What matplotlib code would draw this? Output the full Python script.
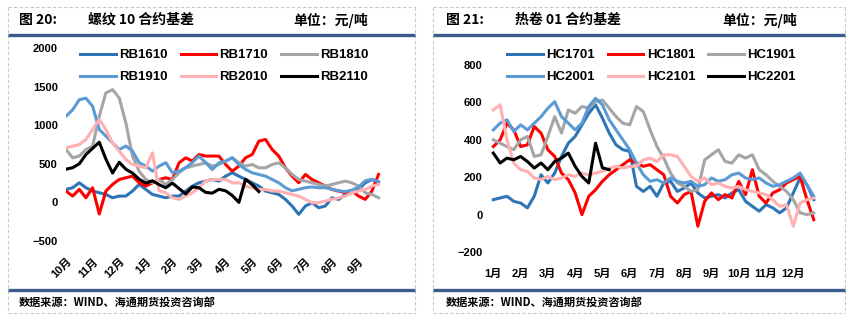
import matplotlib
matplotlib.use('Agg')
import matplotlib.pyplot as plt
from matplotlib.lines import Line2D
import numpy as np

plt.rcParams['font.family'] = ['Liberation Sans', 'Noto Sans CJK SC']
plt.rcParams['font.weight'] = 'bold'

W, H = 851, 325

# ---- rebar (RB) basis, Oct -> Sep, weekly points ----
rb_months = ['10月', '11月', '12月', '1月', '2月', '3月', '4月', '5月', '6月', '7月', '8月', '9月']
rb_step = 0.25

rb1610 = [168, 190, 254, 190, 147, 125, 103, 60, 82, 82, 147, 233, 168, 103, 82, 60, 82, 82, 147, 211, 254, 276, 297,
          276, 340, 384, 340, 297, 254, 211, 147, 125, 103, 39, -47, -155, -47, -4, -69, -47, 60, 39, 103, 147, 168, 254, 297, 254]
rb1710 = [147, 82, 168, 60, 190, -150, 147, 233, 297, 319, 340, 254, 211, 254, 297, 319, 297, 513, 578, 535, 620, 600, 600,
          600, 491, 405, 470, 578, 620, 793, 815, 685, 600, 448, 340, 254, 362, 297, 254, 211, 168, 147, 125, 147, 82, 39, 147, 362]
rb1810 = [685, 578, 600, 685, 728, 1116, 1418, 1461, 1353, 1030, 600, 405, 297, 254, 297, 233, 297, 384, 448, 470, 491, 513, 470,
          491, 535, 578, 513, 470, 491, 448, 448, 491, 513, 448, 362, 297, 276, 254, 233, 211, 233, 254, 276, 254, 211, 125, 103, 60]
rb1910 = [1116, 1200, 1330, 1350, 1245, 945, 860, 770, 685, 730, 665, 515, 470, 405, 470, 515, 385, 405, 450, 515, 600, 515, 425,
          513, 535, 578, 491, 427, 384, 362, 340, 297, 254, 190, 150, 170, 190, 200, 190, 190, 170, 150, 140, 160, 200, 280, 300, 270]
rb2010 = [707, 728, 750, 815, 944, 1073, 944, 771, 664, 556, 491, 470, 448, 642, 150, 125, 60, 39, 82, 125, 190, 276, 297,
          297, 297, 254, 254, 211, 190, 168, 168, 147, 147, 125, 103, 82, 39, -4, -4, 17, 39, 60, 82, 125, 147, 168, 211, 233]
rb2110 = [430, 450, 500, 620, 700, 780, 560, 380, 520, 430, 380, 300, 250, 280, 230, 190, 250, 180, 110, 200, 190, 130, 120,
          170, 150, 90, 0, 300, 230, 140]

# ---- hot-rolled coil (HC) basis, Jan -> Dec, weekly points ----
hc_months = ['1月', '2月', '3月', '4月', '5月', '6月', '7月', '8月', '9月', '10月', '11月', '12月']
hc_step = 0.25

hc1701 = [80, 89, 98, 71, 62, 36, 98, 213, 169, 222, 311, 382, 418, 480, 542, 587, 516, 436, 373, 347, 338,
          151, 124, 151, 98, 169, 178, 124, 142, 169, 116, 89, 98, 107, 89, 116, 133, 71, 44, 18, 53, 36, 9, 36, 116, 196, 160, 80]
hc1801 = [364, 400, 489, 453, 364, 373, 471, 436, 347, 311, 222, 187, 116, 0, 98, 133, 178, 213, 240, 267, 293,
          276, 258, 267, 240, 213, 98, 62, 107, 124, -62, 71, 116, 80, 107, 89, 178, 107, 240, 98, 62, 116, 133, 169, 187, 204, 80, -27]
hc1901 = [400, 382, 364, 347, 400, 418, 311, 320, 418, 524, 436, 560, 542, 578, 569, 604, 613, 569, 524, 489, 480,
          578, 551, 453, 364, 302, 222, 169, 151, 124, 133, 293, 320, 347, 284, 276, 320, 302, 320, 240, 213, 178, 151, 124, 80, 9, 0, 9]
hc2001 = [453, 489, 507, 444, 480, 453, 489, 524, 569, 604, 524, 489, 453, 489, 578, 622, 587, 507, 453, 400, 347,
          276, 213, 178, 187, 169, 196, 178, 169, 178, 151, 160, 196, 178, 187, 213, 222, 196, 187, 196, 169, 151, 160, 178, 196, 222, 160, 98]
hc2101 = [560, 587, 400, 276, 240, 231, 196, 187, 204, 187, 196, 213, 204, 222, 213, 222, 231, 249, 258, 249, 258,
          258, 293, 302, 284, 320, 320, 311, 258, 204, 178, 196, 160, 169, 151, 142, 151, 133, 124, 116, 107, 80, 44, 53, -62, 62, 80, 89]
hc2201 = [329, 276, 302, 293, 311, 284, 249, 276, 240, 284, 302, 329, 258, 204, 169, 382, 250, 240]

colors = ['#2E75B6', '#FF0000', '#A5A5A5', '#5B9BD5', '#FFB0B0', '#000000']
LW = 2.2


def fx(px):
    return px / W


def fy(py):
    return 1 - py / H


fig = plt.figure(figsize=(W / 100, H / 100), dpi=100)
fig.patch.set_facecolor('white')


def frame(x0, x1):
    # dashed outer box, blue rules, header and source
    dash = dict(color='#C8C8C8', lw=0.8, ls=(0, (3, 2)), transform=fig.transFigure)
    fig.add_artist(Line2D([fx(x0), fx(x0)], [fy(7), fy(313)], **dash))
    fig.add_artist(Line2D([fx(x1), fx(x1)], [fy(7), fy(313)], **dash))
    fig.add_artist(Line2D([fx(x0), fx(x1)], [fy(7), fy(7)], **dash))
    fig.add_artist(Line2D([fx(x0), fx(x1)], [fy(313), fy(313)], **dash))
    rule = dict(color='#3B5B8C', lw=2.4, transform=fig.transFigure, solid_capstyle='butt')
    fig.add_artist(Line2D([fx(x0), fx(x1)], [fy(35), fy(35)], **rule))
    fig.add_artist(Line2D([fx(x0), fx(x1)], [fy(290), fy(290)], **rule))


def style_axes(ax, yticks):
    for s in ax.spines.values():
        s.set_visible(False)
    ax.set_yticks(yticks)
    ax.tick_params(length=0, labelsize=8)
    ax.set_facecolor('none')


# ---------------- left panel ----------------
frame(8, 415)
fig.text(fx(19), fy(20), '图 20:', fontsize=10, fontweight='bold', va='center', family=['Noto Sans CJK SC'])
fig.text(fx(88), fy(20), '螺纹 10 合约基差', fontsize=10, fontweight='bold', va='center', family=['Noto Sans CJK SC'])
fig.text(fx(293), fy(20), '单位：元/吨', fontsize=10, fontweight='bold', va='center', family=['Noto Sans CJK SC'])
fig.text(fx(19), fy(302), '数据来源：WIND、海通期货投资咨询部', fontsize=8, fontweight='bold', va='center',
         family=['Noto Sans CJK SC'])

ax1 = fig.add_axes([fx(66), fy(241), 12 * 26.6 / W, (241 - 48) / H])
rb_series = [('RB1610', rb1610), ('RB1710', rb1710), ('RB1810', rb1810),
             ('RB1910', rb1910), ('RB2010', rb2010), ('RB2110', rb2110)]
for (name, vals), c in zip(rb_series, colors):
    t = np.arange(len(vals)) * rb_step
    ax1.plot(t, vals, color=c, lw=LW, label=name, solid_joinstyle='round')
ax1.set_xlim(0, 12)
ax1.set_ylim(-500, 2000)
style_axes(ax1, [-500, 0, 500, 1000, 1500, 2000])
ax1.tick_params(axis='y', pad=6)
ax1.set_xticks(np.arange(12))
ax1.set_xticklabels(rb_months, rotation=45, ha='right', va='top', rotation_mode='anchor')
ax1.tick_params(axis='x', pad=11)

# ---------------- right panel ----------------
frame(433, 845)
fig.text(fx(446), fy(20), '图 21:', fontsize=10, fontweight='bold', va='center', family=['Noto Sans CJK SC'])
fig.text(fx(515), fy(20), '热卷 01 合约基差', fontsize=10, fontweight='bold', va='center', family=['Noto Sans CJK SC'])
fig.text(fx(722), fy(20), '单位：元/吨', fontsize=10, fontweight='bold', va='center', family=['Noto Sans CJK SC'])
fig.text(fx(446), fy(302), '数据来源：WIND、海通期货投资咨询部', fontsize=8, fontweight='bold', va='center',
         family=['Noto Sans CJK SC'])

ax2 = fig.add_axes([fx(490.6), fy(252), 12.05 * 27.27 / W, (252 - 65) / H])
hc_series = [('HC1701', hc1701), ('HC1801', hc1801), ('HC1901', hc1901),
             ('HC2001', hc2001), ('HC2101', hc2101), ('HC2201', hc2201)]
for (name, vals), c in zip(hc_series, colors):
    t = np.arange(len(vals)) * hc_step
    ax2.plot(t, vals, color=c, lw=LW, label=name, solid_joinstyle='round')
ax2.set_xlim(-0.1, 11.95)
ax2.set_ylim(-200, 800)
style_axes(ax2, [-200, 0, 200, 400, 600, 800])
ax2.tick_params(axis='y', pad=6)
ax2.set_xticks(np.arange(12))
ax2.set_xticklabels(hc_months)
ax2.tick_params(axis='x', pad=12)

# legends, row-major order across three columns
for ax, anchor in ((ax1, (80, 49)), (ax2, (507, 49))):
    h, l = ax.get_legend_handles_labels()
    order = [0, 3, 1, 4, 2, 5]
    ax.legend([h[i] for i in order], [l[i] for i in order], ncol=3, frameon=False,
              loc='upper left', bbox_to_anchor=(fx(anchor[0]), fy(anchor[1])),
              bbox_transform=fig.transFigure, borderpad=0, borderaxespad=0,
              handlelength=2.7, handletextpad=0.25, columnspacing=1.0,
              labelspacing=0.75, prop=dict(size=9.5, weight='bold'))

fig.savefig('out.png', dpi=100, facecolor='white')
